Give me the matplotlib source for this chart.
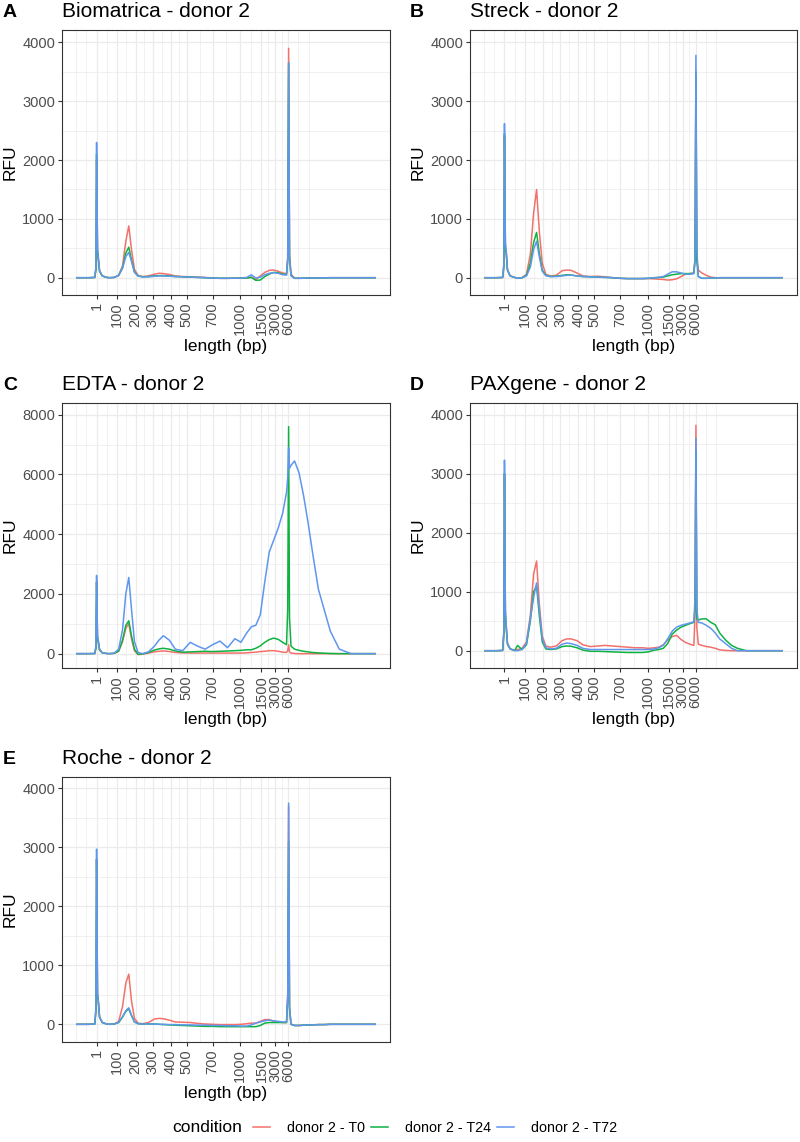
import numpy as np
import matplotlib.pyplot as plt
from matplotlib.lines import Line2D
from matplotlib.ticker import MultipleLocator, FixedLocator

plt.rcParams['font.family'] = ['Liberation Sans', 'DejaVu Sans']

# run position (electropherogram x axis), same grid for every trace
pos = [0, 4, 6.0, 6.4, 6.6, 6.9, 7.2, 7.6, 8.5, 10,
       11, 12.5, 14, 15.3, 16.4, 17.4, 18.3, 19.3, 20.5, 22,
       24, 26, 27.5, 29, 31, 33, 35.5, 38, 40.5, 43,
       45.5, 48, 50.5, 53, 55, 57, 58.5, 60, 61.5, 63,
       64.5, 66, 67.5, 69, 70.3, 70.7, 71.0, 71.3, 71.8, 73,
       74.5, 76, 77.5, 79, 81, 83, 85, 88, 92, 100]

# ladder positions and their sizes (bp)
tick_pos = [6.6, 13.4, 19.7, 25.4, 31.4, 36.8, 45.5, 54.8, 61.9, 66.6, 70.9]
tick_labels = ['1', '100', '200', '300', '400', '500', '700', '1000', '1500', '3000', '6000']

conditions = ['donor 2 - T0', 'donor 2 - T24', 'donor 2 - T72']
titles = ['Biomatrica - donor 2', 'Streck - donor 2', 'EDTA - donor 2',
          'PAXgene - donor 2', 'Roche - donor 2']
tags = ['A', 'B', 'C', 'D', 'E']

# RFU values
biomatrica_t0 = [0, 0, 5, 150, 2000, 450, 300, 110, 30, 5,
                 0, 5, 40, 200, 620, 880, 480, 140, 40, 20,
                 30, 60, 75, 70, 55, 30, 20, 15, 10, 5,
                 -5, -10, -10, -8, -5, -5, 10, -30, 30, 90,
                 125, 130, 110, 80, 70, 350, 3900, 400, 60, -5,
                 -10, -8, -5, -5, -3, -2, 0, 0, 0, 0]
biomatrica_t24 = [0, 0, 5, 150, 2100, 450, 310, 110, 30, 5,
                  0, 5, 40, 170, 420, 520, 300, 100, 30, 15,
                  20, 30, 35, 35, 30, 20, 15, 10, 5, 0,
                  -5, -10, -10, -8, -5, -5, 5, -45, -40, 20,
                  60, 90, 85, 60, 55, 300, 3650, 350, 40, -10,
                  -10, -8, -5, -5, -3, -2, 0, 0, 0, 0]
biomatrica_t72 = [0, 0, 5, 200, 2300, 500, 350, 120, 30, 5,
                  0, 5, 40, 160, 360, 430, 280, 90, 30, 15,
                  15, 25, 30, 30, 25, 20, 15, 10, 5, 0,
                  -5, -10, -10, -8, -5, 5, 50, -5, 10, 50,
                  75, 85, 75, 50, 45, 300, 3650, 350, 30, -10,
                  -10, -8, -5, -5, -3, -2, 0, 0, 0, 0]

streck_t0 = [0, 0, 5, 200, 2400, 500, 400, 130, 30, 5,
             -10, 0, 60, 400, 1100, 1500, 800, 250, 60, 30,
             40, 120, 130, 125, 80, 30, 20, 25, 15, 0,
             -10, -15, -15, -15, -15, -20, -25, -30, -40, -35,
             -20, 20, 60, 70, 80, 300, 3400, 300, 130, 80,
             40, 10, 0, 0, 0, 0, 0, 0, 0, 0]
streck_t24 = [0, 0, 5, 200, 2450, 500, 420, 130, 30, 5,
              -10, 0, 40, 250, 600, 770, 420, 130, 40, 20,
              25, 40, 50, 45, 30, 20, 15, 10, 5, 0,
              -10, -15, -15, -15, -10, 0, 5, 10, 30, 50,
              60, 70, 70, 70, 75, 300, 3500, 300, 20, -10,
              -10, -5, -5, 0, 0, 0, 0, 0, 0, 0]
streck_t72 = [0, 0, 5, 250, 2620, 600, 450, 140, 30, 5,
              -10, 0, 30, 180, 480, 620, 360, 110, 35, 20,
              20, 30, 40, 45, 30, 20, 15, 10, 5, 0,
              -10, -15, -15, -15, -10, 0, 5, 20, 60, 100,
              100, 80, 60, 60, 70, 350, 3780, 500, 20, -10,
              -10, -5, -5, 0, 0, 0, 0, 0, 0, 0]

edta_t0 = [0, 0, 5, 200, 2400, 500, 380, 120, 30, 5,
           0, 10, 80, 400, 850, 1000, 500, 100, -30, -20,
           20, 60, 80, 90, 70, 40, 25, 20, 20, 20,
           20, 20, 20, 20, 20, 30, 40, 50, 70, 80,
           100, 100, 80, 50, 40, 100, 300, 60, 20, 5,
           0, 0, 0, 0, 0, 0, 0, 0, 0, 0]
edta_t24 = [0, 0, 5, 200, 2400, 500, 380, 120, 30, 5,
            0, 10, 90, 450, 950, 1100, 600, 150, -20, -10,
            40, 120, 160, 180, 150, 90, 50, 60, 70, 80,
            70, 80, 90, 100, 110, 130, 130, 180, 260, 380,
            470, 520, 480, 380, 300, 1500, 7600, 1200, 250, 150,
            110, 80, 60, 40, 25, 15, 5, 0, 0, 0]
edta_t72 = [0, 0, 5, 300, 2620, 600, 420, 150, 30, 5,
            0, 20, 150, 800, 2000, 2550, 1500, 400, 40, 0,
            60, 250, 450, 600, 450, 150, 100, 380, 250, 150,
            300, 420, 200, 500, 380, 700, 900, 950, 1300, 2400,
            3400, 3800, 4200, 4700, 5400, 5900, 6900, 6200, 6300, 6450,
            6050, 5300, 4400, 3400, 2150, 1450, 750, 150, 0, 0]

paxgene_t0 = [0, 0, 5, 300, 3000, 600, 400, 120, 30, 10,
              20, 40, 150, 600, 1300, 1520, 800, 250, 80, 60,
              80, 170, 200, 200, 170, 100, 70, 80, 90, 80,
              70, 60, 50, 50, 40, 50, 60, 100, 180, 240,
              260, 190, 140, 110, 90, 600, 3820, 400, 110, 90,
              70, 60, 40, 15, 5, 0, 0, 0, 0, 0]
paxgene_t24 = [0, 0, 5, 300, 3000, 600, 380, 110, 30, 0,
               90, 20, 100, 500, 1000, 1100, 600, 150, 30, 20,
               30, 70, 80, 75, 50, 10, -10, -10, -15, -20,
               -25, -30, -30, -30, -20, 10, 20, 40, 120, 280,
               350, 400, 430, 460, 480, 700, 3400, 550, 520, 540,
               540, 480, 440, 300, 180, 90, 40, 0, 0, 0]
paxgene_t72 = [0, 0, 5, 350, 3230, 700, 420, 130, 30, 5,
               0, 20, 120, 550, 900, 1150, 700, 200, 50, 30,
               40, 110, 130, 120, 90, 40, 20, 20, 20, 20,
               20, 20, 20, 20, 20, 30, 50, 90, 200, 330,
               400, 430, 450, 470, 490, 900, 3600, 700, 480, 470,
               430, 380, 300, 200, 120, 40, 0, 0, 0, 0]

roche_t0 = [0, 0, 5, 250, 2800, 500, 380, 120, 30, 5,
            0, 5, 50, 300, 700, 850, 400, 100, 20, 10,
            30, 90, 100, 95, 70, 40, 35, 30, 15, 5,
            0, -5, -5, -5, 0, 10, 20, 20, 50, 80,
            80, 50, 40, 30, 30, 500, 3700, 300, 0, -20,
            -20, -15, -10, -10, -5, -5, 0, 0, 0, 0]
roche_t24 = [0, 0, 5, 250, 2800, 500, 380, 120, 30, 5,
             0, 5, 30, 120, 220, 260, 150, 40, 10, 5,
             5, 5, 0, -5, -10, -15, -20, -25, -30, -35,
             -35, -40, -40, -40, -40, -40, -40, -40, -20, 20,
             30, 30, 30, 30, 30, 400, 3100, 250, 0, -20,
             -20, -15, -10, -10, -5, -5, 0, 0, 0, 0]
roche_t72 = [0, 0, 5, 300, 2970, 550, 380, 120, 30, 5,
             0, 5, 30, 130, 230, 280, 150, 40, 10, 5,
             5, 5, 0, 0, -5, -5, -10, -10, -15, -15,
             -20, -20, -25, -25, -30, -30, -10, 20, 40, 60,
             70, 60, 50, 40, 40, 500, 3750, 300, 0, -20,
             -20, -15, -10, -10, -5, -5, 0, 0, 0, 0]

traces = [
    [biomatrica_t0, biomatrica_t24, biomatrica_t72],
    [streck_t0, streck_t24, streck_t72],
    [edta_t0, edta_t24, edta_t72],
    [paxgene_t0, paxgene_t24, paxgene_t72],
    [roche_t0, roche_t24, roche_t72],
]
# y range
y_lims = [(-294, 4212), (-294, 4212), (-480, 8390), (-293, 4198), (-300, 4192)]
y_step = [1000, 1000, 2000, 1000, 1000]

colors = ['#F2716B', '#0FB241', '#5F96EE']

W, H = 800, 1142
def fx(px):
    return px / W
def fy(py):
    return 1 - py / H

# panel boxes in pixels: left, top, right, bottom
boxes = [(62, 30, 390, 295), (470, 30, 797, 295),
         (62, 403, 390, 668), (470, 403, 797, 668),
         (62, 777, 390, 1042)]
tag_x = [3, 410, 3, 410, 3]

# ggplot-like minor breaks: midpoints, plus one step beyond each end
step = tick_pos[1] - tick_pos[0]
ext = [tick_pos[0] - step] + tick_pos + [tick_pos[-1] + step]
minor_x = [(ext[i] + ext[i + 1]) / 2 for i in range(len(ext) - 1)] + [ext[0], ext[-1]]

fig = plt.figure(figsize=(8, 11.42), dpi=100)

for k in range(5):
    l, t, r, b = boxes[k]
    ax = fig.add_axes([fx(l), fy(b), (r - l) / W, (b - t) / H])
    for s in range(3):
        ax.plot(pos, traces[k][s], color=colors[s], lw=1.1)
    ax.margins(x=0.05)
    ax.set_ylim(*y_lims[k])

    ax.xaxis.set_major_locator(FixedLocator(tick_pos))
    ax.set_xticklabels(tick_labels, rotation=90)
    ax.xaxis.set_minor_locator(FixedLocator(minor_x))
    ax.yaxis.set_major_locator(MultipleLocator(y_step[k]))
    ax.yaxis.set_minor_locator(MultipleLocator(y_step[k] / 2))

    ax.set_axisbelow(True)
    ax.grid(which='major', color='#EBEBEB', lw=0.9)
    ax.grid(which='minor', color='#EBEBEB', lw=0.5)
    ax.tick_params(which='major', length=3, width=0.8, color='#333333',
                   labelsize=10.5, labelcolor='#4D4D4D', pad=2)
    ax.tick_params(which='minor', length=0)
    for sp in ax.spines.values():
        sp.set_color('#333333')
        sp.set_linewidth(0.8)

    ax.set_xlabel('length (bp)', fontsize=12.5, labelpad=3)
    ax.set_ylabel('RFU', fontsize=12.5, labelpad=3)

    fig.text(fx(l), fy(t - 13), titles[k], fontsize=15, va='baseline', ha='left')
    fig.text(fx(tag_x[k]), fy(t - 13), tags[k], fontsize=14, fontweight='bold',
             va='baseline', ha='left')

# legend along the bottom
fig.text(fx(172), fy(1128), 'condition', fontsize=12.5, va='center', ha='left')
handles = [Line2D([], [], color=c, lw=1.1) for c in colors]
fig.legend(handles, conditions, ncol=3, loc='center left',
           bbox_to_anchor=(fx(253), fy(1128)), frameon=False,
           fontsize=10.3, handlelength=1.2, handletextpad=1.2,
           columnspacing=0.4, borderpad=0, borderaxespad=0)

fig.savefig('out.png', dpi=100)
